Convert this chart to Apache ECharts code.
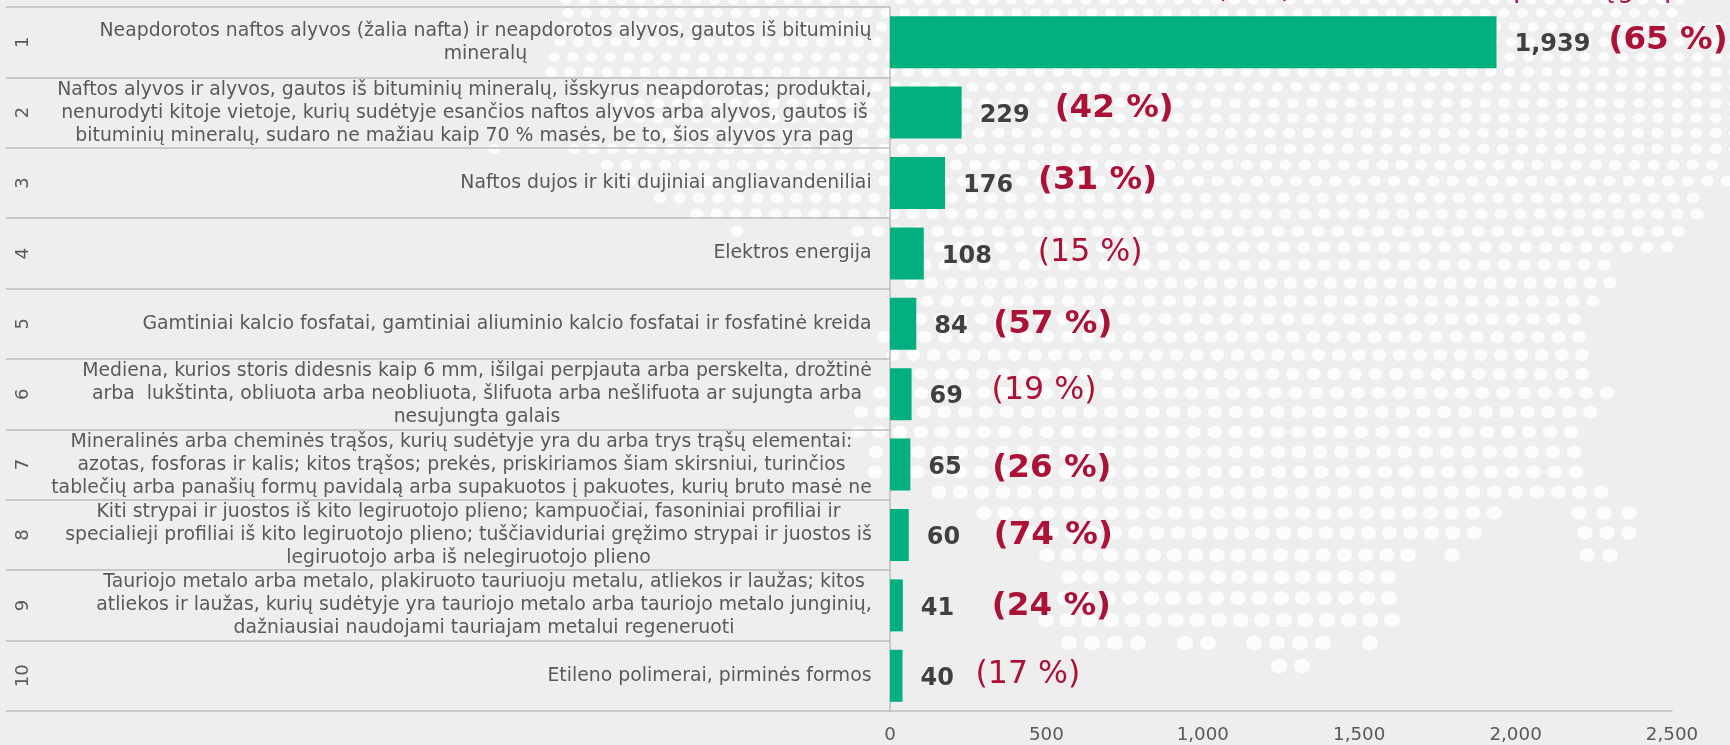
<!DOCTYPE html>
<html>
<head>
<meta charset="utf-8">
<style>html,body{margin:0;padding:0;background:#eeeeee}#c{width:1730px;height:745px}</style>
<script src="https://cdn.jsdelivr.net/npm/echarts@6/dist/echarts.min.js"></script>
</head>
<body>
<div id="c"></div>
<script>
const ranks = ['1','2','3','4','5','6','7','8','9','10'];
const productLabels = [
 'Neapdorotos naftos alyvos (žalia nafta) ir neapdorotos alyvos, gautos iš bituminių\nmineralų',
 'Naftos alyvos ir alyvos, gautos iš bituminių mineralų, išskyrus neapdorotas; produktai,\nnenurodyti kitoje vietoje, kurių sudėtyje esančios naftos alyvos arba alyvos, gautos iš\nbituminių mineralų, sudaro ne mažiau kaip 70 % masės, be to, šios alyvos yra pag',
 'Naftos dujos ir kiti dujiniai angliavandeniliai',
 'Elektros energija',
 'Gamtiniai kalcio fosfatai, gamtiniai aliuminio kalcio fosfatai ir fosfatinė kreida',
 'Mediena, kurios storis didesnis kaip 6 mm, išilgai perpjauta arba perskelta, drožtinė\narba  lukštinta, obliuota arba neobliuota, šlifuota arba nešlifuota ar sujungta arba\nnesujungta galais',
 'Mineralinės arba cheminės trąšos, kurių sudėtyje yra du arba trys trąšų elementai:\nazotas, fosforas ir kalis; kitos trąšos; prekės, priskiriamos šiam skirsniui, turinčios\ntablečių arba panašių formų pavidalą arba supakuotos į pakuotes, kurių bruto masė ne',
 'Kiti strypai ir juostos iš kito legiruotojo plieno; kampuočiai, fasoniniai profiliai ir\nspecialieji profiliai iš kito legiruotojo plieno; tuščiaviduriai gręžimo strypai ir juostos iš\nlegiruotojo arba iš nelegiruotojo plieno',
 'Tauriojo metalo arba metalo, plakiruoto tauriuoju metalu, atliekos ir laužas; kitos\natliekos ir laužas, kurių sudėtyje yra tauriojo metalo arba tauriojo metalo junginių,\ndažniausiai naudojami tauriajam metalui regeneruoti',
 'Etileno polimerai, pirminės formos'
];
const values = [1939,229,176,108,84,69,65,60,41,40];
const shares = [65,42,31,15,57,19,26,74,24,17];
const shareIsBold = [true,true,true,false,true,false,true,true,true,false];
const xMax = 2500, xStep = 500;

// label placement relative to the end of each bar
const shareOffsetX = [112,93,93,114,77,80,82,85,89,73];
const shareOffsetY = [-2,-4,-2,-1,1,-3,4,1,1,-1];

// decorative dotted map in the page background: [y, [fromX,toX], ...]
const dotRows = [
 [0,[566,1680]],[13,[568,1672]],[27,[565,1719]],[42,[560,1735]],[57,[554,1735]],[72,[551,1735]],
 [87,[610,1735]],[103,[620,1735]],[118,[620,1735]],[133,[630,1735]],[149,[494,494],[574,1735]],
 [165,[607,1712]],[181,[630,1727]],[198,[660,1693]],[214,[697,1697]],[231,[737,737],[858,1678]],
 [247,[900,1667]],[265,[905,1604]],[283,[911,1610]],[301,[927,1593]],[319,[920,1574]],[337,[884,1579]],
 [355,[893,1582]],[374,[921,1582]],[393,[880,1607]],[412,[861,1590]],[432,[858,1571]],[452,[876,1574]],
 [472,[875,1576]],[492,[939,1601]],[513,[984,1494],[1579,1629]],[533,[1030,1474],[1585,1629]],
 [555,[1047,1408],[1452,1452],[1587,1610]],[577,[1069,1388]],[598,[1065,1389]],[620,[1046,1392]],
 [643,[1069,1138],[1185,1208],[1254,1323],[1370,1370]],[666,[1279,1302]]
];

const FONT = '"DejaVu Sans", Verdana, sans-serif';
const GREY = '#595959', RULE = '#bdbdbd', RED = '#ab1237', GREEN = '#02b07f', DARK = '#404040';
const LABEL_SIZE = 18.85;

function buildDots() {
  const out = [];
  dotRows.forEach(([y, ...spans]) => {
    const s = 18.5 + 0.0058 * y, rx = 5.5 + 0.004 * y, ry = 4.6 + 0.004 * y;
    spans.forEach(([a, b]) => {
      const n = Math.max(0, Math.round((b - a) / s));
      const step = n ? (b - a) / n : 0;
      for (let i = 0; i <= n; i++) {
        out.push({type:'ellipse', silent:true, z:-1,
          shape:{cx:a + i * step, cy:y, rx:rx, ry:ry},
          style:{fill:'#fcfcfc'}});
      }
    });
  });
  return out;
}
// bottom edge of a title line that falls outside the page
const clippedTitle = [['(',1216],[')',1281],['p',1513],['ų',1597],['g',1617],['p',1664]].map(([t,x]) => ({
  type:'text', silent:true, x:x, y:-24,
  style:{text:t, font:'27px ' + FONT, fill:RED}
}));

const ctx = document.createElement('canvas').getContext('2d');
ctx.font = LABEL_SIZE + 'px "DejaVu Sans"';
const rich = {};
const labelKey = {};
productLabels.forEach((txt, i) => {
  const w = Math.ceil(Math.max(...txt.split('\n').map(l => ctx.measureText(l).width)));
  rich['r' + i] = {width:w, align:'center', fontSize:LABEL_SIZE, fontFamily:FONT, color:GREY, lineHeight:23};
  labelKey[txt] = 'r' + i;
});

const chart = echarts.init(document.getElementById('c'), null, {renderer:'canvas'});
chart.setOption({
  animation:false,
  backgroundColor:'#eeeeee',
  textStyle:{fontFamily:FONT},
  grid:{left:890, right:58, top:7, bottom:34, containLabel:false},
  graphic:{elements:[...buildDots(), ...clippedTitle]},
  xAxis:{type:'value', min:0, max:xMax, interval:xStep,
    splitLine:{show:false}, axisTick:{show:false},
    axisLine:{show:true, lineStyle:{color:RULE, width:1.5}},
    axisLabel:{color:GREY, fontSize:18.3, fontFamily:FONT, margin:15,
      formatter:v => v.toLocaleString('en-US')}},
  yAxis:[{
    type:'category', inverse:true, data:productLabels,
    axisLine:{show:true, lineStyle:{color:RULE, width:1.5}},
    axisTick:{show:true, length:884, lineStyle:{color:RULE, width:1.5}},
    axisLabel:{margin:18, align:'right', interval:0, rich:rich,
      formatter:t => t.split('\n').map(l => '{' + labelKey[t] + '|' + l + '}').join('\n')}
  },{
    type:'category', inverse:true, position:'left', data:ranks,
    axisLine:{show:false}, axisTick:{show:false},
    axisLabel:{margin:867, rotate:90, align:'center', verticalAlign:'middle', interval:0,
      color:GREY, fontSize:18, fontFamily:FONT}
  }],
  series:[{
    name:'value', type:'bar', yAxisIndex:0, barWidth:52, barGap:'-100%',
    itemStyle:{color:GREEN},
    label:{show:true, position:'right', distance:18, offset:[0,3], color:DARK,
      fontSize:24, fontWeight:'bold', fontFamily:FONT,
      formatter:p => p.value.toLocaleString('en-US')},
    data:values
  },{
    name:'share', type:'bar', yAxisIndex:0, barWidth:52, barGap:'-100%',
    itemStyle:{color:'rgba(0,0,0,0)'},
    data:values.map((v,i) => ({
      value:v,
      label:{show:true, position:'right', distance:0,
        offset:[shareOffsetX[i], shareOffsetY[i]],
        color:RED, fontFamily:FONT,
        fontSize:shareIsBold[i] ? 32.6 : 31.6,
        fontWeight:shareIsBold[i] ? 'bold' : 'normal',
        formatter:'(' + shares[i] + ' %)'}
    }))
  }]
});
</script>
</body>
</html>
